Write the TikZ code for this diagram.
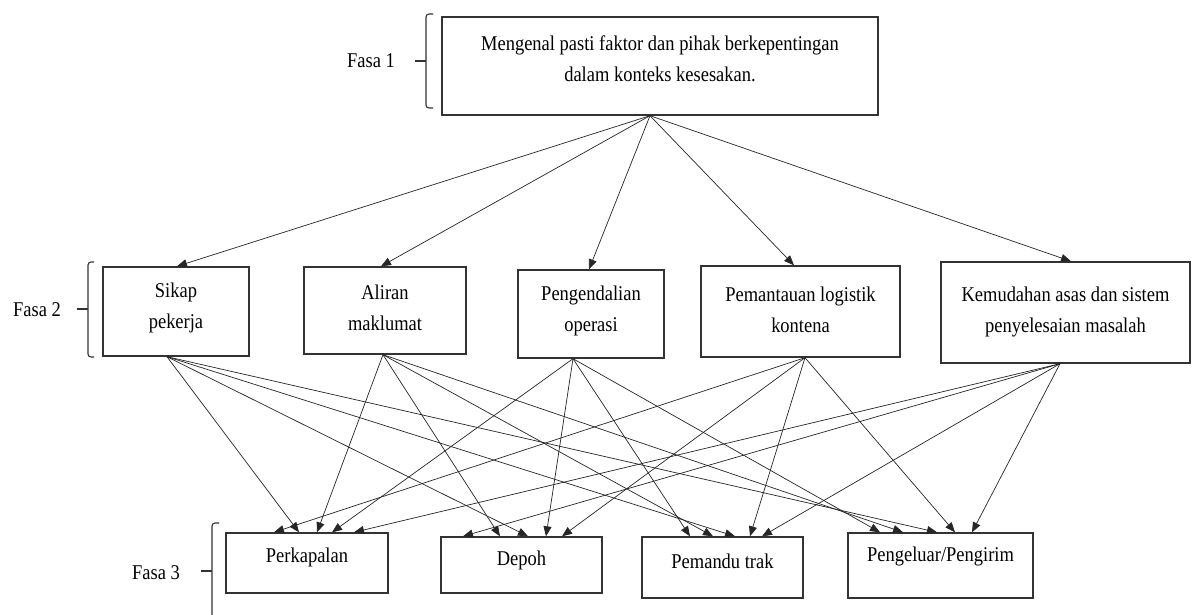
\documentclass[tikz,border=0pt]{standalone}
\usepackage{fontspec}
\setmainfont{Liberation Serif}[FakeStretch=0.88]
\usetikzlibrary{arrows.meta}
\begin{document}
\begin{tikzpicture}[x=1pt,y=-1pt,
  box/.style={draw=black!80, line width=1.4pt, rectangle, inner sep=0pt},
  txt/.style={font=\fontsize{21}{31}\selectfont, align=center, inner sep=0pt},
  arr/.style={-{Triangle[length=10pt,width=8pt]}, line width=0.7pt, draw=black!85},
  brk/.style={line width=1.1pt, draw=black!80, rounded corners=3pt}]
\useasboundingbox (0,0) rectangle (1194,615);
\fill[white] (0,0) rectangle (1194,615);
\clip (0,0) rectangle (1194,615);

% Fasa 1
\node[box, minimum width=436pt, minimum height=98pt] (top) at (660,66) {};
\node[txt] (topT) at (660,59) {Mengenal pasti faktor dan pihak berkepentingan\\dalam konteks kesesakan.};

% Fasa 2
\node[box, minimum width=146pt, minimum height=89pt] (sikap) at (176,311.5) {};
\node[txt] (sikapT) at (176,308) {Sikap\\pekerja};
\node[box, minimum width=162pt, minimum height=87pt] (aliran) at (385,310.5) {};
\node[txt] (aliranT) at (385,308) {Aliran\\maklumat};
\node[box, minimum width=146pt, minimum height=88pt] (peng) at (591,314) {};
\node[txt] (pengT) at (591,311) {Pengendalian\\operasi};
\node[box, minimum width=199pt, minimum height=91pt] (pem) at (800.5,311.5) {};
\node[txt] (pemT) at (800.5,310) {Pemantauan logistik\\kontena};
\node[box, minimum width=249pt, minimum height=101pt] (kem) at (1065.5,312.5) {};
\node[txt] (kemT) at (1065.5,312) {Kemudahan asas dan sistem\\penyelesaian masalah};

% Fasa 3
\node[box, minimum width=162pt, minimum height=60pt] (perk) at (307,563) {};
\node[txt] (perkT) at (307,557) {Perkapalan};
\node[box, minimum width=161pt, minimum height=56pt] (depoh) at (521.5,565) {};
\node[txt] (depohT) at (521.5,560) {Depoh};
\node[box, minimum width=161pt, minimum height=61pt] (trak) at (722.5,567.5) {};
\node[txt] (trakT) at (722.5,561) {Pemandu trak};
\node[box, minimum width=185pt, minimum height=65pt] (pgl) at (940.5,565.5) {};
\node[txt] (pglT) at (940.5,556) {Pengeluar/Pengirim};

% Labels and brackets
\node[txt] (f1) at (371,61) {Fasa 1};
\node[txt] (f2) at (37,310) {Fasa 2};
\node[txt] (f3) at (156,573) {Fasa 3};
\draw[brk] (433,14) -- (426,14) -- (426,108) -- (433,108);
\draw[line width=1.1pt, draw=black!80] (415,61) -- (426,61);
\draw[brk] (94,262) -- (88,262) -- (88,357) -- (94,357);
\draw[line width=1.1pt, draw=black!80] (77,309) -- (88,309);
\draw[brk] (219,523) -- (212,523) -- (212,630);
\draw[line width=1.1pt, draw=black!80] (201,571) -- (212,571);

% Fasa 1 -> Fasa 2
\draw[arr] ([xshift=-10pt]top.south) -- ([xshift=1pt]sikap.north);
\draw[arr] ([xshift=-10pt]top.south) -- ([xshift=-4pt]aliran.north);
\draw[arr] ([xshift=-10pt]top.south) -- ([xshift=-2pt]peng.north);
\draw[arr] ([xshift=-10pt]top.south) -- ([xshift=-6.5pt]pem.north);
\draw[arr] ([xshift=-10pt]top.south) -- ([xshift=5.5pt]kem.north);

% Sikap
\draw[arr] ([xshift=-9pt]sikap.south) -- ([xshift=-8pt]perk.north);
\draw[arr] ([xshift=-9pt]sikap.south) -- ([xshift=6.5pt]depoh.north);
\draw[arr] ([xshift=-9pt]sikap.south) -- ([xshift=12.5pt]trak.north);
\draw[arr] ([xshift=-9pt]sikap.south) -- ([xshift=-3.5pt]pgl.north);
% Aliran
\draw[arr] ([xshift=-2pt]aliran.south) -- ([xshift=10pt]perk.north);
\draw[arr] ([xshift=-2pt]aliran.south) -- ([xshift=-21.5pt]depoh.north);
\draw[arr] ([xshift=-2pt]aliran.south) -- ([xshift=-9.5pt]trak.north);
\draw[arr] ([xshift=-2pt]aliran.south) -- ([xshift=-37.5pt]pgl.north);
% Pengendalian
\draw[arr] ([xshift=-18pt]peng.south) -- ([xshift=25pt]perk.north);
\draw[arr] ([xshift=-18pt]peng.south) -- ([xshift=24.5pt]depoh.north);
\draw[arr] ([xshift=-18pt]peng.south) -- ([xshift=-32.5pt]trak.north);
\draw[arr] ([xshift=-18pt]peng.south) -- ([xshift=-60.5pt]pgl.north);
% Pemantauan
\draw[arr] ([xshift=4.5pt]pem.south) -- ([xshift=-33pt]perk.north);
\draw[arr] ([xshift=4.5pt]pem.south) -- ([xshift=40.5pt]depoh.north);
\draw[arr] ([xshift=4.5pt]pem.south) -- ([xshift=27.5pt]trak.north);
\draw[arr] ([xshift=4.5pt]pem.south) -- ([xshift=14.5pt]pgl.north);
% Kemudahan
\draw[arr] ([xshift=-5.5pt]kem.south) -- ([xshift=47pt]perk.north);
\draw[arr] ([xshift=-5.5pt]kem.south) -- ([xshift=-58.5pt]depoh.north);
\draw[arr] ([xshift=-5.5pt]kem.south) -- ([xshift=39.5pt]trak.north);
\draw[arr] ([xshift=-5.5pt]kem.south) -- ([xshift=31.5pt]pgl.north);
\end{tikzpicture}
\end{document}
